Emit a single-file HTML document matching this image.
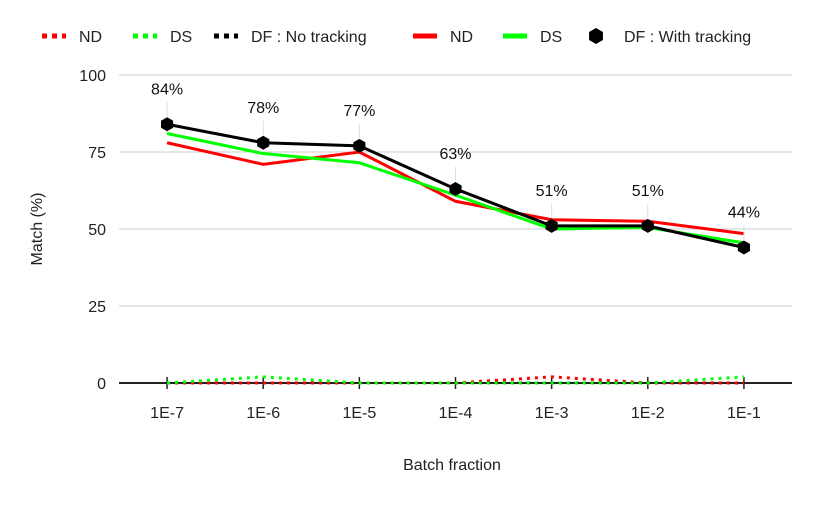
<!DOCTYPE html>
<html><head><meta charset="utf-8"><style>
body{margin:0;background:#fff;font-family:"Liberation Sans",Roboto,sans-serif;}
svg text{font-family:"Liberation Sans",sans-serif;}
</style></head><body>
<svg id="c" width="814" height="501" xmlns="http://www.w3.org/2000/svg"></svg>
<script>
const categories=["1E-7","1E-6","1E-5","1E-4","1E-3","1E-2","1E-1"];
const ndTrack=[78,71,75,59,53,52.5,48.5];
const dsTrack=[81,74.5,71.5,61,50,50.5,45.5];
const dfTrack=[84,78,77,63,51,51,44];
const ndNo=[0,0,0,0,2,0,0];
const dsNo=[0,2,0,0,0,0,2];
const dfNo=[0,0,0,0,0,0,0];
const dfLabels=["84%","78%","77%","63%","51%","51%","44%"];
const yTicks=[0,25,50,75,100];
const NS="http://www.w3.org/2000/svg";
const svg=document.getElementById('c');
const L=119,R=792,T=75,B=383;
const bw=(R-L)/categories.length;
const x=i=>L+bw*(i+0.5);
const y=v=>B-(B-T)*v/100;
function el(t,a,p){const e=document.createElementNS(NS,t);for(const k in a)e.setAttribute(k,a[k]);(p||svg).appendChild(e);return e;}
yTicks.forEach(v=>{
  if(v>0){const g=el('line',{x1:L,x2:R,y1:y(v),y2:y(v),stroke:'#ccc','stroke-width':1});
  
  }
  const t=el('text',{x:106,y:y(v)+6,'text-anchor':'end','font-size':16,fill:'#222'});t.textContent=v;
  
  
});
categories.forEach((c,i)=>{
  const tk=el('line',{x1:x(i)+bw/2*0-bw/2+bw/2,x2:x(i),y1:B-6,y2:B+6,stroke:'#222','stroke-width':1.5});
  
  
  const t=el('text',{x:x(i),y:418,'text-anchor':'middle','font-size':16,fill:'#222'});t.textContent=c;
  
  
});
const ax=el('line',{x1:L,x2:R,y1:B,y2:B,stroke:'#222','stroke-width':2});


function series(d,col,dash,name,w){
  const p=el('polyline',{points:d.map((v,i)=>x(i)+','+y(v)).join(' '),fill:'none',stroke:col,'stroke-width':w||3,'stroke-dasharray':dash||'none'});
  
  
}
series(dfNo,'#000','3 5','df-no-tracking-line');
series(ndNo,'#ff0000','3 5','nd-no-tracking-line');
series(dsNo,'#00ff00','3 5','ds-no-tracking-line');
series(ndTrack,'#ff0000',null,'nd-tracking-line');
series(dsTrack,'#00ff00',null,'ds-tracking-line');
series(dfTrack,'#000',null,'df-tracking-line');
function hex(cx,cy,r){let p=[];for(let k=0;k<6;k++){const a=Math.PI/3*k+Math.PI/6;p.push((cx+r*Math.cos(a))+','+(cy+r*Math.sin(a)));}return p.join(' ');}
dfTrack.forEach((v,i)=>{
  const ln=el('line',{x1:x(i),x2:x(i),y1:y(v)-8,y2:y(v)-22,stroke:'#ddd','stroke-width':1});
  
  
  const m=el('polygon',{points:hex(x(i),y(v),7),fill:'#000'});
  
  
  const t=el('text',{x:x(i),y:y(v)-30,'text-anchor':'middle','font-size':16,fill:'#111'});t.textContent=dfLabels[i];
  
  
});
const yt=el('text',{x:42,y:229,'text-anchor':'middle','font-size':16,fill:'#222',transform:'rotate(-90 42 229)'});yt.textContent='Match (%)';


const xt=el('text',{x:452,y:470,'text-anchor':'middle','font-size':16,fill:'#222'});xt.textContent='Batch fraction';


const legend=[["ND","#ff0000",true,42],["DS","#00ff00",true,133],["DF : No tracking","#000",true,214],["ND","#ff0000",false,413],["DS","#00ff00",false,503],["DF : With tracking","#000",false,587]];
legend.forEach(l=>{
  const g=el('g',{});
  
  
  if(l[0].startsWith('DF : With')){el('polygon',{points:hex(l[3]+9,36,8),fill:'#000'},g);}
  else el('line',{x1:l[3],x2:l[3]+24,y1:36,y2:36,stroke:l[1],'stroke-width':5,'stroke-dasharray':l[2]?'5 5':'none'},g);
  const t=el('text',{x:l[3]+37,y:42,'font-size':16,fill:'#222'},g);t.textContent=l[0];
});
</script>
</body></html>
